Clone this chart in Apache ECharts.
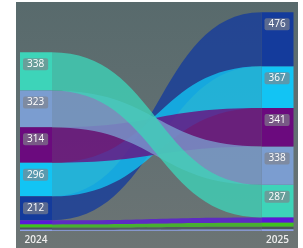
<!DOCTYPE html>
<html>
<head>
<meta charset="utf-8">
<script src="https://cdn.jsdelivr.net/npm/echarts@6/dist/echarts.min.js"></script>
<style>
  body{margin:0;background:#fff;}
  #main{position:absolute;left:16px;top:2px;width:282px;height:246px;
    background:linear-gradient(180deg,#586a6c 0%,#627072 55%,#6c7474 100%);}
</style>
</head>
<body>
<div id="main"></div>
<script>
// 年份
var years = ['2024', '2025'];
// 各分类（左列从上到下）
var names = ['Cat A', 'Cat B', 'Cat C', 'Cat D', 'Cat E', 'Cat F', 'Cat G', 'Cat H', 'Cat I'];
var colors = ['#3dd4b9', '#7b9dd0', '#6b0a7e', '#12c4f4', '#143b9c', '#5a18d8', '#3fc21e', '#4a5458', '#8ea2e6'];
var values2024 = [338, 323, 314, 296, 212, 36, 28, 18, 12];
var values2025 = [287, 338, 341, 367, 476, 48, 34, 22, 16];
// 只给大分类显示标签
var showLabel = [true, true, true, true, true, false, false, false, false];

var halfBar = 16;

// 按大小排序堆叠，小的在下面
function stack(vals) {
	var order = vals.map(function (v, i) { return i; }).sort(function (a, b) { return vals[a] - vals[b]; });
	var res = [], acc = 0;
	order.forEach(function (i) {
		res[i] = [acc, acc + vals[i]];
		acc += vals[i];
	});
	return res;
}
var stackL = stack(values2024);
var stackR = stack(values2025);

var myChart = echarts.init(document.getElementById('main'));

function ribbonItem(params, api) {
	var i = params.dataIndex;
	var l = stackL[i], r = stackR[i];
	var pL1 = api.coord([0, l[1]]), pL0 = api.coord([0, l[0]]);
	var pR1 = api.coord([1, r[1]]), pR0 = api.coord([1, r[0]]);
	var xa = pL1[0] + halfBar, xb = pR1[0] - halfBar, xm = (xa + xb) / 2;
	var d = 'M' + xa + ' ' + pL1[1] +
		' C' + xm + ' ' + pL1[1] + ' ' + xm + ' ' + pR1[1] + ' ' + xb + ' ' + pR1[1] +
		' L' + xb + ' ' + pR0[1] +
		' C' + xm + ' ' + pR0[1] + ' ' + xm + ' ' + pL0[1] + ' ' + xa + ' ' + pL0[1] + ' Z';
	return {
		type: 'path',
		z2: names.length - i,
		shape: { pathData: d },
		style: { fill: colors[i], opacity: 0.78 }
	};
}

function barItem(params, api) {
	var i = params.dataIndex;
	var children = [];
	[stackL[i], stackR[i]].forEach(function (s, col) {
		var vals = col === 0 ? values2024 : values2025;
		var top = api.coord([col, s[1]]);
		var bot = api.coord([col, s[0]]);
		children.push({
			type: 'rect',
			shape: { x: top[0] - halfBar, y: top[1], width: halfBar * 2, height: bot[1] - top[1] },
			style: { fill: colors[i] }
		});
		if (showLabel[i]) {
			children.push({
				type: 'text',
				z2: 10,
				style: {
					text: String(vals[i]),
					x: top[0] - halfBar + 3,
					y: top[1] + 12,
					verticalAlign: 'middle',
					fill: '#ffffff',
					font: '10px "Open Sans"',
					backgroundColor: 'rgba(128,130,138,0.66)',
					padding: [1, 4, 1, 4],
					borderRadius: 2
				}
			});
		}
	});
	return { type: 'group', children: children };
}

var option = {
	animation: false,
	grid: { left: 20, right: 20.5, top: 0, bottom: 17 },
	xAxis: {
		type: 'category',
		data: years,
		boundaryGap: false,
		axisLine: { show: false },
		axisTick: { show: false },
		splitLine: { show: false },
		axisLabel: {
			color: '#eeeeee',
			fontSize: 10,
			fontFamily: 'Open Sans',
			fontWeight: 600,
			margin: 4
		}
	},
	yAxis: {
		type: 'value',
		min: 0,
		max: 2020,
		show: false
	},
	series: [
		{
			type: 'custom',
			name: 'ribbons',
			renderItem: ribbonItem,
			data: names.map(function (n, i) { return { name: n, value: [0, values2024[i]] }; }),
			z: 2
		},
		{
			type: 'custom',
			name: 'bars',
			renderItem: barItem,
			data: names.map(function (n, i) { return { name: n, value: [0, values2024[i]] }; }),
			z: 3
		}
	]
};
myChart.setOption(option);
</script>
</body>
</html>
